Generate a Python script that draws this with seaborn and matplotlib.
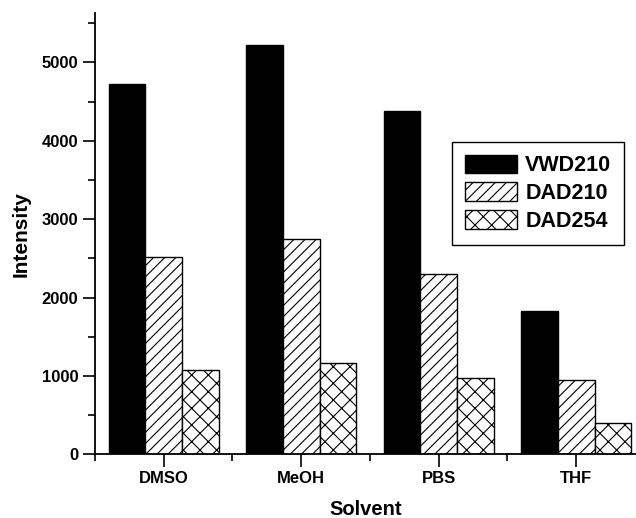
import pandas as pd
import matplotlib
matplotlib.use('Agg')
import matplotlib.pyplot as plt
from matplotlib.ticker import MultipleLocator, FixedLocator
import seaborn as sns

# valores
solventes = ['DMSO', 'MeOH', 'PBS', 'THF']
series = ['VWD210', 'DAD210', 'DAD254']
vwd210 = [4727, 5220, 4378, 1832]
dad210 = [2520, 2746, 2300, 948]
dad254 = [1071, 1161, 977, 403]

df = pd.DataFrame({
    'Solvent': solventes * 3,
    'Serie': [s for s in series for _ in solventes],
    'Intensity': vwd210 + dad210 + dad254,
})

sns.set_style('ticks')
plt.rcParams['font.family'] = ['Liberation Sans', 'DejaVu Sans']
plt.rcParams['font.weight'] = 'bold'
plt.rcParams['hatch.linewidth'] = 0.8
plt.rcParams['text.color'] = 'black'
plt.rcParams['axes.labelcolor'] = 'black'
plt.rcParams['xtick.color'] = 'black'
plt.rcParams['ytick.color'] = 'black'
plt.rcParams['axes.edgecolor'] = 'black'

fig = plt.figure(figsize=(6.36, 5.18), dpi=100)
ax = fig.add_axes([0.1494, 0.123, 0.8506, 0.852])

sns.barplot(data=df, x='Solvent', y='Intensity', hue='Serie', order=solventes,
            hue_order=series, palette=['black', 'white', 'white'],
            edgecolor='black', linewidth=1, width=0.8, saturation=1,
            legend=False, ax=ax)

hatches = ['', '///', 'xx']
for cont, h in zip(ax.containers, hatches):
    for p in cont:
        p.set_hatch(h)
        p.set_edgecolor('black')

ax.set_xlim(-0.5, 3.435)
ax.set_ylim(0, 5630)
ax.yaxis.set_major_locator(MultipleLocator(1000))
ax.yaxis.set_minor_locator(MultipleLocator(500))
ax.xaxis.set_minor_locator(FixedLocator([-0.5, 0.5, 1.5, 2.5]))
ax.tick_params(axis='both', which='major', length=9, width=1.2, labelsize=12)
ax.tick_params(axis='both', which='minor', length=5, width=1.2)
ax.tick_params(axis='x', pad=3)
ax.tick_params(axis='y', pad=3)
for lab in ax.get_xticklabels() + ax.get_yticklabels():
    lab.set_fontweight('bold')

for s in ['top', 'right']:
    ax.spines[s].set_visible(False)
for s in ['left', 'bottom']:
    ax.spines[s].set_linewidth(1.3)

ax.set_xlabel('Solvent', fontsize=14.5, fontweight='bold', labelpad=10)
ax.set_ylabel('Intensity', fontsize=15, fontweight='bold', labelpad=8)

leg = ax.legend(ax.containers, series, loc='upper left',
                bbox_to_anchor=(0.66, 0.708), borderaxespad=0,
                fancybox=False, edgecolor='black', framealpha=1,
                prop={'size': 15.5, 'weight': 'bold'},
                handlelength=2.4, handleheight=0.95, handletextpad=0.4,
                labelspacing=0.28, borderpad=0.6)
leg.get_frame().set_linewidth(1)

plt.savefig('out.png', dpi=100)
